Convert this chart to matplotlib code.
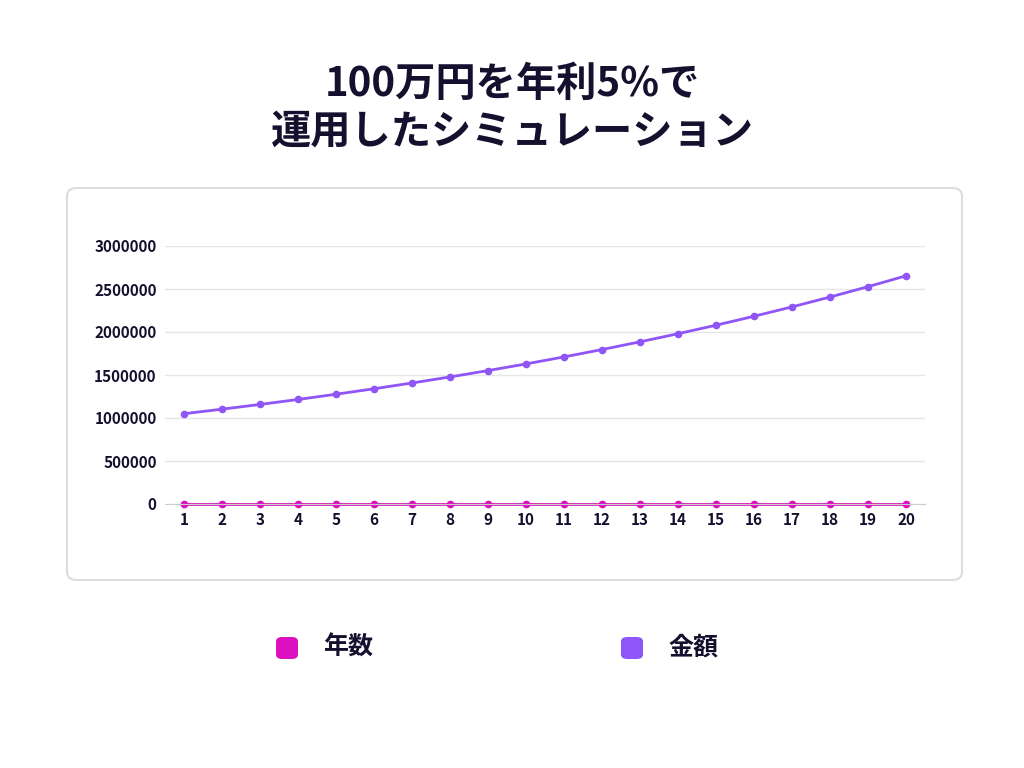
import matplotlib
matplotlib.use("Agg")
import matplotlib.pyplot as plt
from matplotlib.patches import FancyBboxPatch

plt.rcParams["font.family"] = ["Noto Sans CJK JP"]

years = list(range(1, 21))
nensu = [1, 2, 3, 4, 5, 6, 7, 8, 9, 10, 11, 12, 13, 14, 15, 16, 17, 18, 19, 20]
kingaku = [1050000, 1102500, 1157625, 1215506, 1276282, 1340096, 1407100, 1477455,
           1551328, 1628895, 1710339, 1795856, 1885649, 1979932, 2078928, 2182875,
           2292018, 2406619, 2526950, 2653298]
series_names = ["年数", "金額"]
colors = ["#dc10c0", "#8f55f6"]
title = "100万円を年利5%で\n運用したシミュレーション"

fig = plt.figure(figsize=(10.24, 7.68), dpi=100)
fig.text(0.5, 1 - 108 / 768, title, ha="center", va="center", fontsize=29, fontweight="bold",
         color="#14102e", linespacing=1.2)

# rounded frame around plot (kept behind the axes)
box = FancyBboxPatch((67 / 1024, 1 - 580 / 768), 895 / 1024, 392 / 768,
                     boxstyle="round,pad=0,rounding_size=0.01", transform=fig.transFigure,
                     facecolor="white", edgecolor="#dddddd", lw=1.5, zorder=-1)
fig.patches.append(box)

ax = fig.add_axes([165 / 1024, 1 - 504 / 768, 760 / 1024, 258 / 768])
ax.set_facecolor("none")
for vals, c in zip([nensu, kingaku], colors):
    ax.plot(years, vals, color=c, lw=2, marker="o", ms=4.5, clip_on=False)
ax.set_xlim(0.5, 20.5)
ax.set_ylim(0, 3000000)
ax.set_xticks(years)
ax.set_yticks(range(0, 3000001, 500000))
ax.yaxis.set_major_formatter(matplotlib.ticker.FuncFormatter(lambda v, p: f"{int(v)}"))
ax.grid(axis="y", color="#e6e6e6", lw=1)
ax.set_axisbelow(True)
for s in ["top", "right", "left"]:
    ax.spines[s].set_visible(False)
ax.spines["bottom"].set_color("#cccccc")
ax.tick_params(length=0, labelsize=11, colors="#14102e", pad=6)
for lab in ax.get_xticklabels() + ax.get_yticklabels():
    lab.set_fontweight("bold")

# legend
for name, c, x in zip(series_names, colors, [287, 632]):
    fig.patches.append(FancyBboxPatch(((x - 11) / 1024, 1 - 659 / 768), 22 / 1024, 22 / 768,
                                      boxstyle="round,pad=0,rounding_size=0.006",
                                      transform=fig.transFigure, facecolor=c, edgecolor="none"))
    fig.text((x + 36) / 1024, 1 - 648 / 768, name, ha="left", va="center", fontsize=18,
             fontweight="bold", color="#14102e")

fig.savefig("out.png", dpi=100)
